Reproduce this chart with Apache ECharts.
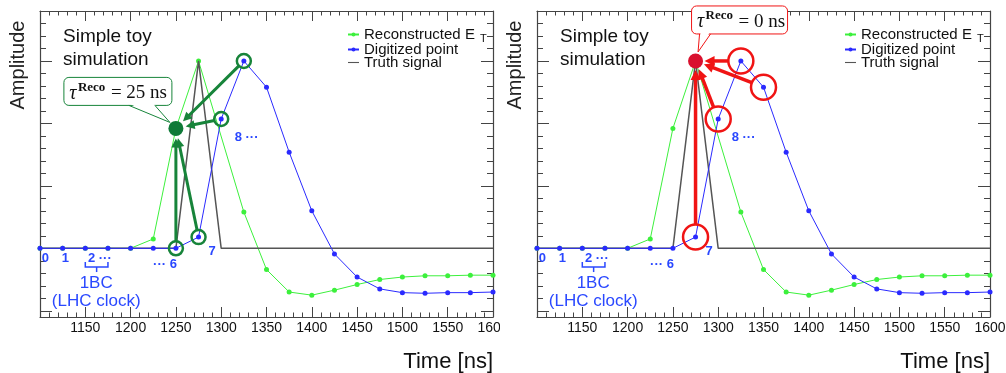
<!DOCTYPE html>
<html>
<head>
<meta charset="utf-8">
<script src="https://cdn.jsdelivr.net/npm/echarts@6/dist/echarts.min.js"></script>
<style>
  html, body { margin: 0; padding: 0; background: #fff; }
  #wrap { position: relative; width: 1006px; height: 373px; overflow: hidden; }
  .pane { position: absolute; top: 0; height: 373px; overflow: hidden; }
  #left { left: 0; width: 500px; }
  #right { left: 500px; width: 506px; }
</style>
</head>
<body>
<div id="wrap">
  <div id="left" class="pane"></div>
  <div id="right" class="pane"></div>
</div>
<script>
const FONT = '"Liberation Sans", Arial, sans-serif'
const SERIF = '"Liberation Serif", "DejaVu Serif", serif'
const FRAME = '#444'
const GREEN = '#3cf03c'
const BLUE = '#2a2aff'
const LABEL_BLUE = '#2a48ff'

// sampling times, one every 25 ns (1 BC)
const times = [1100, 1125, 1150, 1175, 1200, 1225, 1250, 1275, 1300, 1325, 1350,
  1375, 1400, 1425, 1450, 1475, 1500, 1525, 1550, 1575, 1600]
const digitized = [0, 0, 0, 0, 0, 0, 0, 0.18, 2.07, 3.0, 2.58,
  1.54, 0.6, -0.09, -0.46, -0.65, -0.71, -0.72, -0.71, -0.71, -0.7]
const reconstructed = [0, 0, 0, 0, 0, 0.15, 1.92, 3.0, null, 0.58, -0.34,
  -0.7, -0.75, -0.67, -0.58, -0.5, -0.46, -0.44, -0.44, -0.43, -0.43]
const truthTimes = [1100, 1250, 1275, 1300, 1600]
const truthValues = [0, 0, 3.0, 0, 0]

// blue bunch-crossing labels
const bcLabels = ['0', '1', '2 \u00b7\u00b7\u00b7', '\u00b7\u00b7\u00b7 6', '7', '8 \u00b7\u00b7\u00b7']
const bcLabelTimes = [1106, 1128, 1166, 1238, 1290, 1328]
const bcLabelAmps = [-0.16, -0.16, -0.16, -0.26, -0.05, 1.78]

const Y_MIN = -1.1
const Y_MAX = 3.8
const yMajor = [-1, 0, 1, 2, 3]
const yMinor = []
for (let v = -1; v <= 3.81; v += 0.2) yMinor.push(Math.round(v * 10) / 10)

function buildOption(gridLeft, gridRight) {
  const xBase = {
    type: 'value', min: 1100, max: 1600, interval: 50,
    splitLine: { show: false },
    axisLine: { show: true, onZero: false, lineStyle: { color: FRAME, width: 1.2 } },
    axisTick: { inside: true, length: 10, lineStyle: { color: FRAME } },
    minorTick: { show: true, splitNumber: 5, length: 4.5, lineStyle: { color: FRAME } },
  }
  const yBase = {
    type: 'value', min: Y_MIN, max: Y_MAX,
    splitLine: { show: false },
    axisLabel: { show: false },
  }
  const frameLine = { show: true, onZero: false, lineStyle: { color: FRAME, width: 1.2 } }
  const noLine = { show: false, onZero: false }
  // ROOT-like frame: major and minor ticks on all four sides, pointing inwards
  return {
    animation: false,
    grid: { left: gridLeft, right: gridRight, top: 11, bottom: 56, outerBoundsMode: 'none', containLabel: false },
    xAxis: [
      { ...xBase, position: 'bottom',
        axisLabel: { showMinLabel: false, margin: 4, fontFamily: FONT, fontSize: 14, color: '#111', formatter: v => String(v) } },
      { ...xBase, position: 'top', axisLabel: { show: false } },
    ],
    yAxis: [
      { ...yBase, position: 'left', axisLine: frameLine,
        axisTick: { inside: true, length: 12, customValues: yMajor, lineStyle: { color: FRAME } } },
      { ...yBase, position: 'left', axisLine: noLine,
        axisTick: { show: true, inside: true, length: 6, customValues: yMinor, lineStyle: { color: FRAME } } },
      { ...yBase, position: 'right', axisLine: frameLine,
        axisTick: { inside: true, length: 12, customValues: yMajor, lineStyle: { color: FRAME } } },
      { ...yBase, position: 'right', axisLine: noLine,
        axisTick: { show: true, inside: true, length: 6, customValues: yMinor, lineStyle: { color: FRAME } } },
    ],
    legend: {
      orient: 'vertical', left: gridLeft + 307, top: 27, padding: 0, itemGap: -2,
      itemWidth: 11, itemHeight: 5, selectedMode: false,
      data: [
        { name: 'Reconstructed E_T' },
        { name: 'Digitized point' },
        { name: 'Truth signal', icon: 'path://M0,0h20v2h-20z' },
      ],
      formatter: n => (n === 'Reconstructed E_T' ? 'Reconstructed E{sub|T}' : n),
      textStyle: {
        fontFamily: FONT, fontSize: 15, lineHeight: 13, color: '#111',
        rich: { sub: { fontFamily: FONT, fontSize: 11, padding: [8, 0, 0, 5] } },
      },
    },
    series: [
      {
        name: 'Reconstructed E_T', type: 'line', z: 2, connectNulls: true,
        data: times.map((t, i) => [t, reconstructed[i]]),
        symbol: 'circle', symbolSize: 5,
        itemStyle: { color: GREEN }, lineStyle: { color: GREEN, width: 1 },
      },
      {
        name: 'Truth signal', type: 'line', z: 3,
        data: truthTimes.map((t, i) => [t, truthValues[i]]),
        symbol: 'none', itemStyle: { color: '#555' }, lineStyle: { color: '#555', width: 1.5 },
      },
      {
        name: 'Digitized point', type: 'line', z: 4,
        data: times.map((t, i) => [t, digitized[i]]),
        symbol: 'circle', symbolSize: 5,
        itemStyle: { color: BLUE }, lineStyle: { color: BLUE, width: 1 },
      },
    ],
  }
}

function arrow(p, q, color, w, head, hw) {
  const dx = q[0] - p[0], dy = q[1] - p[1]
  const L = Math.hypot(dx, dy), ux = dx / L, uy = dy / L
  const bx = q[0] - ux * head, by = q[1] - uy * head
  return [
    { type: 'line', z: 100, shape: { x1: p[0], y1: p[1], x2: bx + ux, y2: by + uy },
      style: { stroke: color, lineWidth: w } },
    { type: 'polygon', z: 100,
      shape: { points: [[q[0], q[1]], [bx - uy * hw, by + ux * hw], [bx + uy * hw, by - ux * hw]] },
      style: { fill: color } },
  ]
}

function commonGraphics(chart, gridLeft) {
  const px = (t, a) => chart.convertToPixel({ seriesIndex: 0 }, [t, a])
  const g = []
  g.push({ type: 'text', z: 100, left: gridLeft + 23, top: 25,
    style: { text: 'Simple toy\nsimulation', fontFamily: FONT, fontSize: 19, lineHeight: 23, fill: '#111' } })
  g.push({ type: 'text', z: 100, x: gridLeft - 22, y: 65, rotation: Math.PI / 2,
    style: { text: 'Amplitude', fontFamily: FONT, fontSize: 20, fill: '#222', align: 'center', verticalAlign: 'middle' } })
  g.push({ type: 'text', z: 100, x: px(1600, 0)[0], y: 362,
    style: { text: 'Time [ns]', fontFamily: FONT, fontSize: 22, fill: '#111', align: 'right', verticalAlign: 'middle' } })
  bcLabels.forEach((s, i) => {
    const p = px(bcLabelTimes[i], bcLabelAmps[i])
    g.push({ type: 'text', z: 100, x: p[0], y: p[1],
      style: { text: s, fontFamily: FONT, fontSize: 13, fontWeight: 'bold', fill: LABEL_BLUE, align: 'center', verticalAlign: 'middle' } })
  })
  // brace spanning one bunch crossing (1150-1175 ns)
  const b1 = px(1150, -0.22), b2 = px(1175, -0.3), bm = px(1162.5, -0.38)
  g.push({ type: 'polyline', z: 100, shape: { points: [[b1[0], b1[1]], [b1[0], b2[1]], [b2[0], b2[1]], [b2[0], b1[1]]] },
    style: { stroke: LABEL_BLUE, lineWidth: 1.5, fill: null } })
  g.push({ type: 'line', z: 100, shape: { x1: bm[0], y1: b2[1], x2: bm[0], y2: bm[1] },
    style: { stroke: LABEL_BLUE, lineWidth: 1.5 } })
  const c1 = px(1162, -0.56), c2 = px(1162, -0.85)
  g.push({ type: 'text', z: 100, x: c1[0], y: c1[1],
    style: { text: '1BC', fontFamily: FONT, fontSize: 17, fill: LABEL_BLUE, align: 'center', verticalAlign: 'middle' } })
  g.push({ type: 'text', z: 100, x: c2[0], y: c2[1],
    style: { text: '(LHC clock)', fontFamily: FONT, fontSize: 17, fill: LABEL_BLUE, align: 'center', verticalAlign: 'middle' } })
  return { g, px }
}

function callout(g, D, box, tail, color, value) {
  g.push({ type: 'rect', z: 101, shape: { x: D[0] + box[0], y: D[1] + box[1], width: box[2], height: box[3], r: 5 },
    style: { fill: '#fff', stroke: color, lineWidth: 1 } })
  const pts = tail.map(q => [D[0] + q[0], D[1] + q[1]])
  g.push({ type: 'polygon', z: 102, shape: { points: [[pts[0][0] + 1, pts[0][1] - 1.5], pts[1], [pts[2][0] - 1, pts[2][1] - 1.5]] },
    style: { fill: '#fff' } })
  g.push({ type: 'polyline', z: 103, shape: { points: pts }, style: { stroke: color, lineWidth: 1, fill: null } })
  const bx = D[0] + box[0], by = D[1] + box[1]
  g.push({ type: 'text', z: 104, x: bx + 9, y: by + 16,
    style: { text: '\u03c4', fontFamily: SERIF, fontSize: 20, fontStyle: 'italic', fill: '#111', align: 'center', verticalAlign: 'middle' } })
  g.push({ type: 'text', z: 104, x: bx + 14, y: by + 10,
    style: { text: 'Reco', fontFamily: SERIF, fontSize: 13, fontWeight: 'bold', fill: '#111', align: 'left', verticalAlign: 'middle' } })
  g.push({ type: 'text', z: 104, x: bx + 47, y: by + 16,
    style: { text: '= ' + value, fontFamily: SERIF, fontSize: 19, fill: '#111', align: 'left', verticalAlign: 'middle' } })
}

function towards(c, d, r1, r2) {
  const dx = d[0] - c[0], dy = d[1] - c[1], L = Math.hypot(dx, dy)
  return [[c[0] + dx / L * r1, c[1] + dy / L * r1], [d[0] - dx / L * r2, d[1] - dy / L * r2]]
}

// left pane: reconstruction at 1250 ns
const left = echarts.init(document.getElementById('left'), null, { renderer: 'canvas' })
left.setOption(buildOption(40, 7))
{
  const { g, px } = commonGraphics(left, 40)
  const DG = '#17843a'
  const D = px(times[6], reconstructed[6])
  ;[6, 7, 8, 9].forEach(i => {
    const c = px(times[i], digitized[i])
    g.push({ type: 'circle', z: 100, shape: { cx: c[0], cy: c[1], r: 7 }, style: { fill: null, stroke: DG, lineWidth: 2.5 } })
    const [a, b] = towards(c, D, 7, 10)
    arrow(a, b, DG, 3, 9, 4.5).forEach(e => g.push(e))
  })
  g.push({ type: 'circle', z: 101, shape: { cx: D[0], cy: D[1], r: 7.5 }, style: { fill: '#0f7a38' } })
  callout(g, D, [-112, -51, 108, 28], [[-47, -23], [-6, -6], [-21, -23]], DG, '25 ns')
  left.setOption({ graphic: g })
}

// right pane: reconstruction at 1275 ns
const right = echarts.init(document.getElementById('right'), null, { renderer: 'canvas' })
right.setOption(buildOption(37, 16))
{
  const { g, px } = commonGraphics(right, 37)
  const RD = '#f01414'
  const D = px(times[7], reconstructed[7])
  ;[7, 8, 9, 10].forEach(i => {
    const c = px(times[i], digitized[i])
    g.push({ type: 'circle', z: 100, shape: { cx: c[0], cy: c[1], r: 12.5 }, style: { fill: null, stroke: RD, lineWidth: 2.5 } })
    const [a, b] = towards(c, D, 12.5, 9)
    arrow(a, b, RD, 3.5, 10, 5).forEach(e => g.push(e))
  })
  g.push({ type: 'circle', z: 101, shape: { cx: D[0], cy: D[1], r: 7.5 }, style: { fill: '#d9102e' } })
  callout(g, D, [-4, -55, 96, 28], [[4, -27], [2.5, -9], [15, -27]], RD, '0 ns')
  right.setOption({ graphic: g })
}
</script>
</body>
</html>
